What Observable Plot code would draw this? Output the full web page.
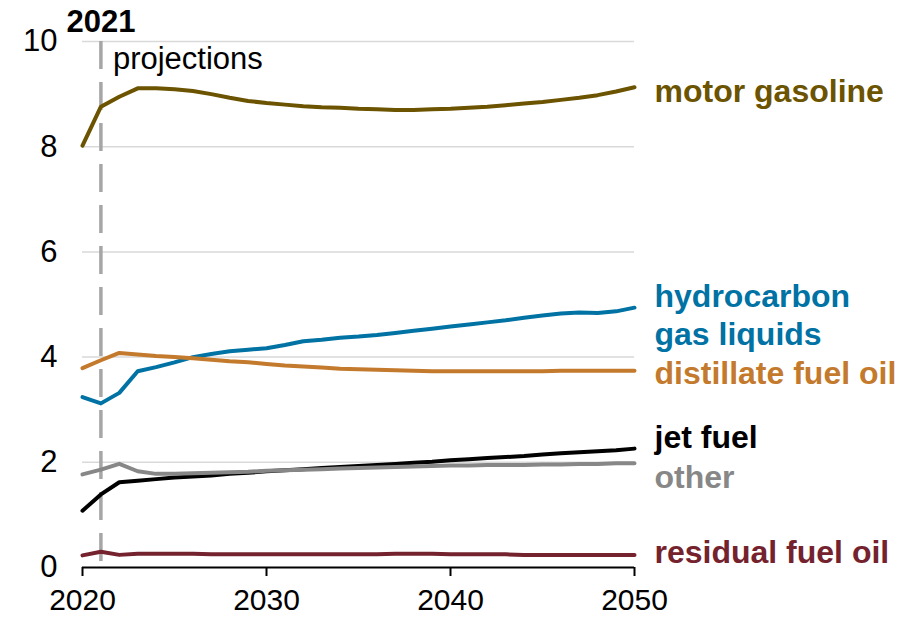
<!DOCTYPE html>
<html>
<head>
<meta charset="utf-8">
<script src="https://cdn.jsdelivr.net/npm/d3@7"></script>
<script src="https://cdn.jsdelivr.net/npm/@observablehq/plot@0.6"></script>
<style>
  body { margin: 0; background: #fff; }
  #chart svg { display: block; }
</style>
</head>
<body>
<div id="chart"></div>
<script>
const years = d3.range(2020, 2051);
const motorGasoline = [8.02, 8.76, 8.95, 9.11, 9.11, 9.09, 9.06, 9.00, 8.93, 8.87, 8.83, 8.80, 8.77, 8.75, 8.74, 8.72, 8.71, 8.70, 8.70, 8.71, 8.72, 8.74, 8.76, 8.79, 8.82, 8.85, 8.89, 8.93, 8.98, 9.05, 9.13];
const hydrocarbonGasLiquids = [3.24, 3.12, 3.32, 3.73, 3.81, 3.90, 4.00, 4.06, 4.11, 4.14, 4.17, 4.23, 4.30, 4.33, 4.37, 4.39, 4.42, 4.46, 4.50, 4.54, 4.58, 4.62, 4.66, 4.70, 4.75, 4.79, 4.83, 4.85, 4.84, 4.87, 4.94];
const distillateFuelOil = [3.79, 3.94, 4.08, 4.05, 4.02, 4.00, 3.98, 3.95, 3.92, 3.90, 3.87, 3.84, 3.82, 3.80, 3.78, 3.77, 3.76, 3.75, 3.74, 3.73, 3.73, 3.73, 3.73, 3.73, 3.73, 3.73, 3.74, 3.74, 3.74, 3.74, 3.74];
const jetFuel = [1.08, 1.39, 1.62, 1.65, 1.68, 1.71, 1.73, 1.75, 1.78, 1.80, 1.83, 1.85, 1.87, 1.89, 1.91, 1.93, 1.95, 1.97, 1.99, 2.01, 2.04, 2.06, 2.08, 2.10, 2.12, 2.15, 2.17, 2.19, 2.21, 2.23, 2.26];
const other = [1.77, 1.86, 1.97, 1.83, 1.78, 1.78, 1.79, 1.80, 1.81, 1.82, 1.84, 1.85, 1.86, 1.87, 1.88, 1.89, 1.90, 1.91, 1.92, 1.93, 1.94, 1.94, 1.95, 1.95, 1.95, 1.96, 1.96, 1.97, 1.97, 1.98, 1.98];
const residualFuelOil = [0.23, 0.30, 0.24, 0.26, 0.26, 0.26, 0.26, 0.25, 0.25, 0.25, 0.25, 0.25, 0.25, 0.25, 0.25, 0.25, 0.25, 0.26, 0.26, 0.26, 0.25, 0.25, 0.25, 0.25, 0.24, 0.24, 0.24, 0.24, 0.24, 0.24, 0.24];
const xTicks = [2020, 2030, 2040, 2050];
const yTicks = [0, 2, 4, 6, 8, 10];
const projectionYear = 2021;
const projectionLabel = "projections";

const seriesDefs = [
  {name: "motor gasoline", values: motorGasoline, color: "#6b5300", dy: 2},
  {name: "hydrocarbon\ngas liquids", values: hydrocarbonGasLiquids, color: "#0072a3", dy: 6},
  {name: "distillate fuel oil", values: distillateFuelOil, color: "#c47a2d", dy: 1},
  {name: "jet fuel", values: jetFuel, color: "#000000", dy: -12.5},
  {name: "other", values: other, color: "#878787", dy: 12},
  {name: "residual fuel oil", values: residualFuelOil, color: "#74232e", dy: -4}
];

const font = "'Liberation Sans', Arial, Helvetica, sans-serif";

const lineMarks = seriesDefs.map(s => Plot.line(years.map((y, i) => ({year: y, value: s.values[i]})), {
  x: "year", y: "value", stroke: s.color, strokeWidth: 4, strokeLinejoin: "round", strokeLinecap: "round"
}));
const labelMarks = seriesDefs.map(s => Plot.text([{year: years[years.length - 1], value: s.values[s.values.length - 1], name: s.name}], {
  x: "year", y: "value", text: "name", fill: s.color, textAnchor: "start", dx: 20, dy: s.dy,
  fontWeight: "bold", fontSize: 32, lineHeight: 1.2
}));

const chart = Plot.plot({
  width: 912,
  height: 618,
  marginLeft: 82,
  marginRight: 278,
  marginTop: 41,
  marginBottom: 51,
  style: {fontFamily: font, fontSize: "31px", color: "#000", background: "#fff"},
  x: {domain: [2020, 2050]},
  y: {domain: [0, 10]},
  marks: [
    Plot.ruleY(yTicks.filter(d => d > 0), {stroke: "#d9d9d9", strokeWidth: 1.5}),
    Plot.axisY({ticks: yTicks, tickSize: 0, tickPadding: 25, fontSize: 31, label: null}),
    Plot.axisX({ticks: xTicks, tickSize: 9, tickPadding: 12, tickFormat: "d", fontSize: 30, label: null, strokeWidth: 2}),
    Plot.ruleX([projectionYear], {stroke: "#a6a6a6", strokeWidth: 3.5, strokeDasharray: "28,13"}),
    Plot.ruleY([0], {stroke: "#000", strokeWidth: 2}),
    ...lineMarks,
    ...labelMarks,
    Plot.text([projectionYear], {x: d => d, y: () => 10, text: d => String(d), fontWeight: "bold", fontSize: 31, dy: -19, fill: "#000"}),
    Plot.text([projectionYear], {x: d => d, y: () => 10, text: () => projectionLabel, textAnchor: "start", dx: 12, dy: 18, fontSize: 31, fill: "#000"})
  ]
});
document.getElementById("chart").appendChild(chart);
</script>
</body>
</html>
